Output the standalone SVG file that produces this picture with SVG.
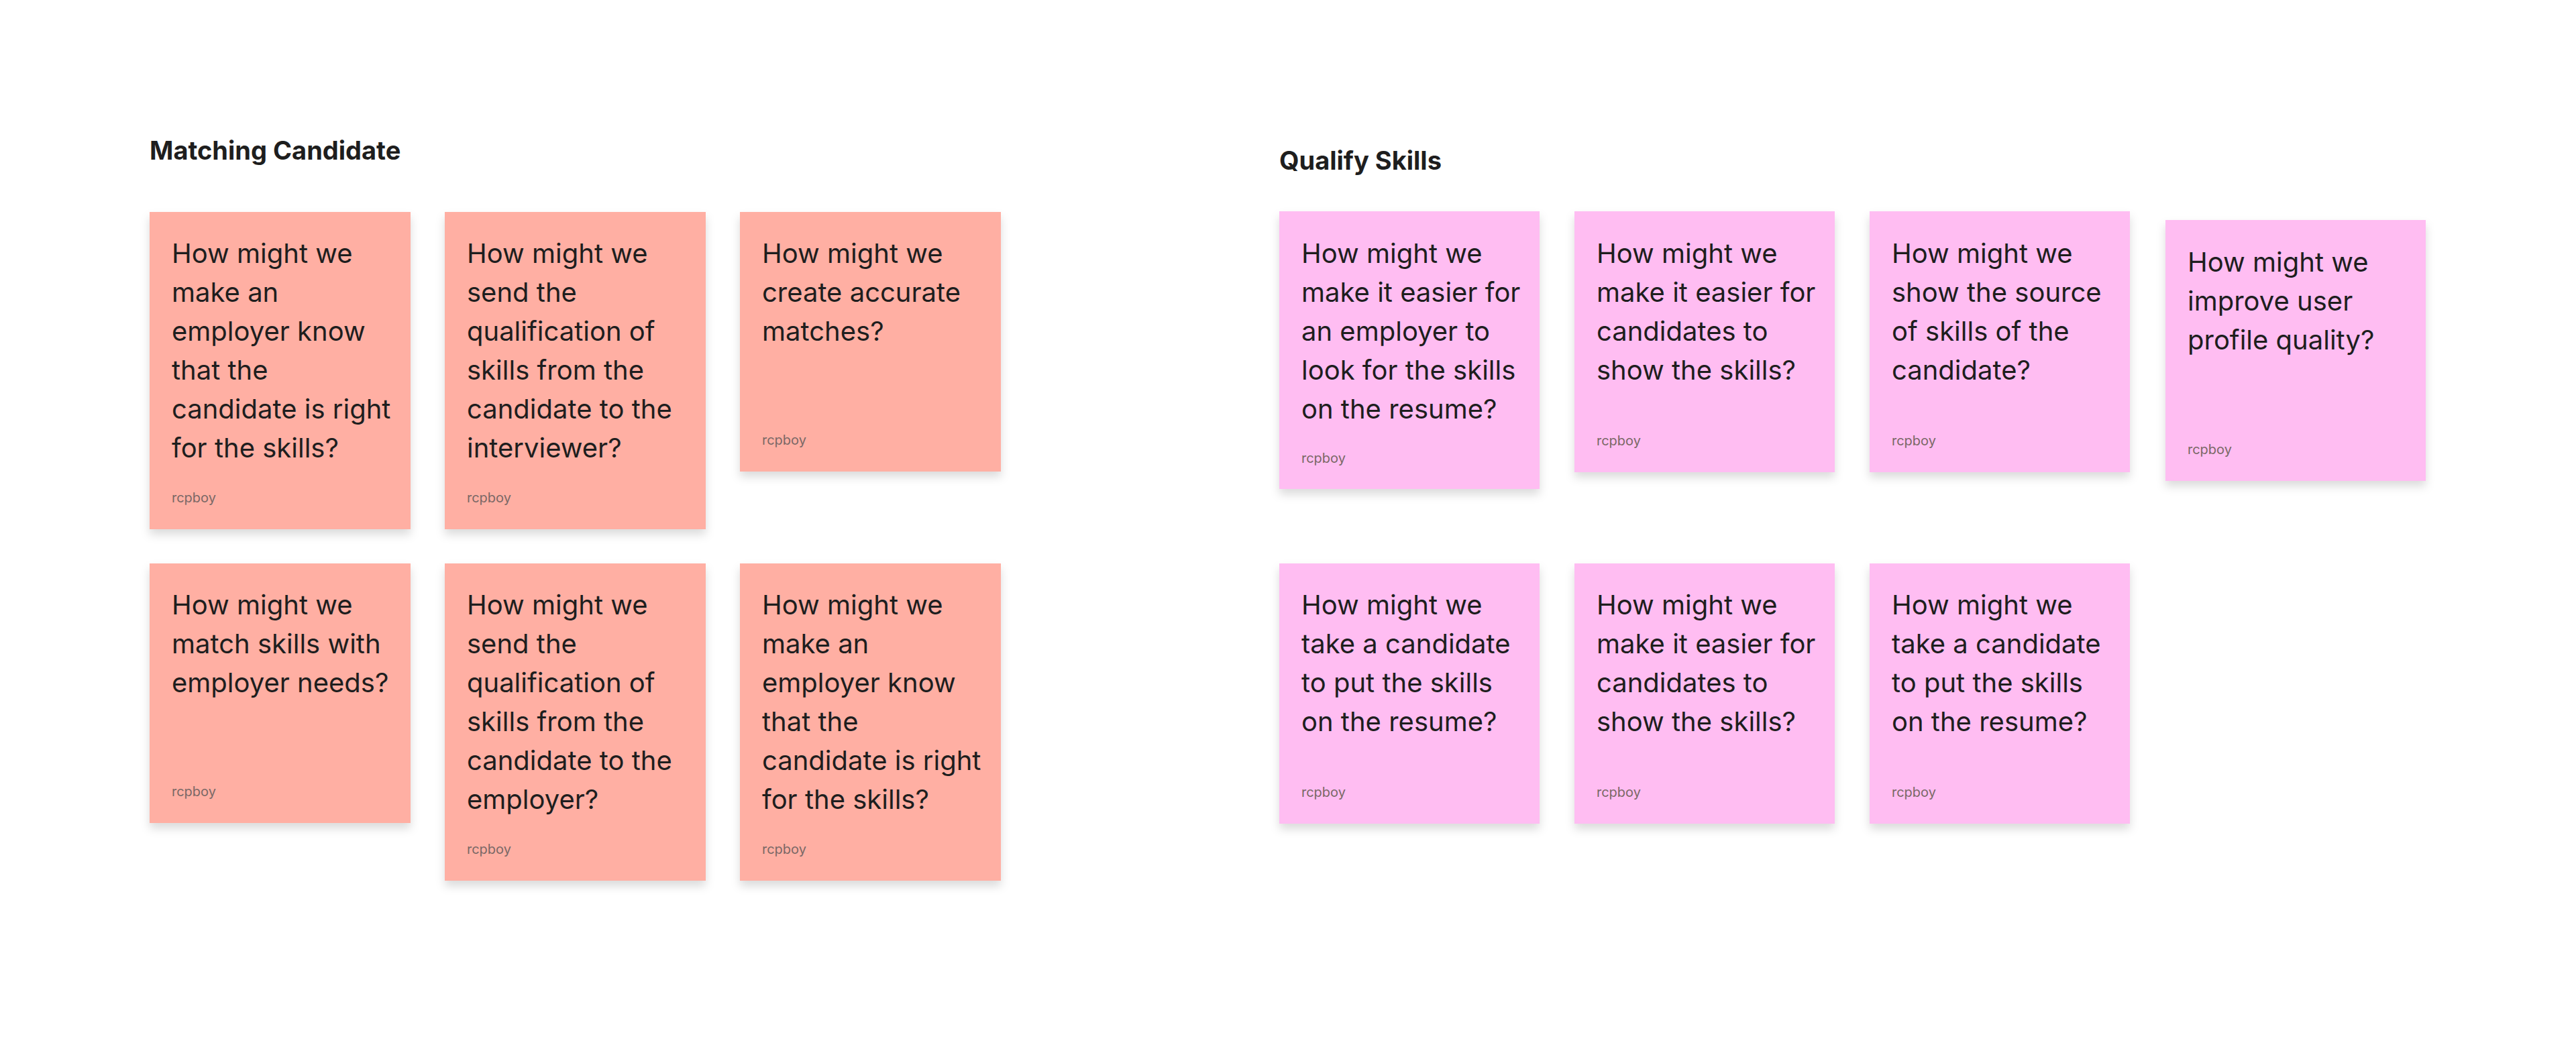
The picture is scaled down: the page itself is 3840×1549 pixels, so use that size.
<svg xmlns="http://www.w3.org/2000/svg" width="3840" height="1549" viewBox="0 0 3840 1549">
<defs>
<filter id="sh" x="-10%" y="-10%" width="120%" height="125%">
<feDropShadow dx="0" dy="8" stdDeviation="7" flood-color="#000" flood-opacity="0.14"/>
</filter>
<style>
.red{fill:#ffafa3;filter:url(#sh)}
.pink{fill:#ffbdf2;filter:url(#sh)}
.t{font-family:Inter,"Liberation Sans",sans-serif;font-size:40px;fill:#1e1e1e}
.a{font-family:Inter,"Liberation Sans",sans-serif;font-size:20px;fill:#7a6866}
.h{font-family:Inter,"Liberation Sans",sans-serif;font-size:38px;font-weight:700;fill:#1e1e1e}
</style>
</defs>
<rect width="3840" height="1549" fill="#fff"/>
<text class="h" x="223" y="238">Matching Candidate</text>
<text class="h" x="1907" y="253">Qualify Skills</text>

<g id="n1"><rect class="red" x="223" y="316" width="389" height="473"/>
<text class="t" x="256" y="392"><tspan x="256">How might we</tspan><tspan x="256" dy="58">make an</tspan><tspan x="256" dy="58">employer know</tspan><tspan x="256" dy="58">that the</tspan><tspan x="256" dy="58">candidate is right</tspan><tspan x="256" dy="58">for the skills?</tspan></text>
<text class="a" x="256" y="749">rcpboy</text></g>

<g id="n2"><rect class="red" x="663" y="316" width="389" height="473"/>
<text class="t" x="696" y="392"><tspan x="696">How might we</tspan><tspan x="696" dy="58">send the</tspan><tspan x="696" dy="58">qualification of</tspan><tspan x="696" dy="58">skills from the</tspan><tspan x="696" dy="58">candidate to the</tspan><tspan x="696" dy="58">interviewer?</tspan></text>
<text class="a" x="696" y="749">rcpboy</text></g>

<g id="n3"><rect class="red" x="1103" y="316" width="389" height="387"/>
<text class="t" x="1136" y="392"><tspan x="1136">How might we</tspan><tspan x="1136" dy="58">create accurate</tspan><tspan x="1136" dy="58">matches?</tspan></text>
<text class="a" x="1136" y="663">rcpboy</text></g>

<g id="n4"><rect class="red" x="223" y="840" width="389" height="387"/>
<text class="t" x="256" y="916"><tspan x="256">How might we</tspan><tspan x="256" dy="58">match skills with</tspan><tspan x="256" dy="58">employer needs?</tspan></text>
<text class="a" x="256" y="1187">rcpboy</text></g>

<g id="n5"><rect class="red" x="663" y="840" width="389" height="473"/>
<text class="t" x="696" y="916"><tspan x="696">How might we</tspan><tspan x="696" dy="58">send the</tspan><tspan x="696" dy="58">qualification of</tspan><tspan x="696" dy="58">skills from the</tspan><tspan x="696" dy="58">candidate to the</tspan><tspan x="696" dy="58">employer?</tspan></text>
<text class="a" x="696" y="1273">rcpboy</text></g>

<g id="n6"><rect class="red" x="1103" y="840" width="389" height="473"/>
<text class="t" x="1136" y="916"><tspan x="1136">How might we</tspan><tspan x="1136" dy="58">make an</tspan><tspan x="1136" dy="58">employer know</tspan><tspan x="1136" dy="58">that the</tspan><tspan x="1136" dy="58">candidate is right</tspan><tspan x="1136" dy="58">for the skills?</tspan></text>
<text class="a" x="1136" y="1273">rcpboy</text></g>

<g id="p1"><rect class="pink" x="1907" y="315" width="388" height="414"/>
<text class="t" x="1940" y="392"><tspan x="1940">How might we</tspan><tspan x="1940" dy="58">make it easier for</tspan><tspan x="1940" dy="58">an employer to</tspan><tspan x="1940" dy="58">look for the skills</tspan><tspan x="1940" dy="58">on the resume?</tspan></text>
<text class="a" x="1940" y="690">rcpboy</text></g>

<g id="p2"><rect class="pink" x="2347" y="315" width="388" height="389"/>
<text class="t" x="2380" y="392"><tspan x="2380">How might we</tspan><tspan x="2380" dy="58">make it easier for</tspan><tspan x="2380" dy="58">candidates to</tspan><tspan x="2380" dy="58">show the skills?</tspan></text>
<text class="a" x="2380" y="664">rcpboy</text></g>

<g id="p3"><rect class="pink" x="2787" y="315" width="388" height="389"/>
<text class="t" x="2820" y="392"><tspan x="2820">How might we</tspan><tspan x="2820" dy="58">show the source</tspan><tspan x="2820" dy="58">of skills of the</tspan><tspan x="2820" dy="58">candidate?</tspan></text>
<text class="a" x="2820" y="664">rcpboy</text></g>

<g id="p4"><rect class="pink" x="3228" y="328" width="388" height="389"/>
<text class="t" x="3261" y="405"><tspan x="3261">How might we</tspan><tspan x="3261" dy="58">improve user</tspan><tspan x="3261" dy="58">profile quality?</tspan></text>
<text class="a" x="3261" y="677">rcpboy</text></g>

<g id="p5"><rect class="pink" x="1907" y="840" width="388" height="388"/>
<text class="t" x="1940" y="916"><tspan x="1940">How might we</tspan><tspan x="1940" dy="58">take a candidate</tspan><tspan x="1940" dy="58">to put the skills</tspan><tspan x="1940" dy="58">on the resume?</tspan></text>
<text class="a" x="1940" y="1188">rcpboy</text></g>

<g id="p6"><rect class="pink" x="2347" y="840" width="388" height="388"/>
<text class="t" x="2380" y="916"><tspan x="2380">How might we</tspan><tspan x="2380" dy="58">make it easier for</tspan><tspan x="2380" dy="58">candidates to</tspan><tspan x="2380" dy="58">show the skills?</tspan></text>
<text class="a" x="2380" y="1188">rcpboy</text></g>

<g id="p7"><rect class="pink" x="2787" y="840" width="388" height="388"/>
<text class="t" x="2820" y="916"><tspan x="2820">How might we</tspan><tspan x="2820" dy="58">take a candidate</tspan><tspan x="2820" dy="58">to put the skills</tspan><tspan x="2820" dy="58">on the resume?</tspan></text>
<text class="a" x="2820" y="1188">rcpboy</text></g>

<g id="connectors"/>
</svg>
